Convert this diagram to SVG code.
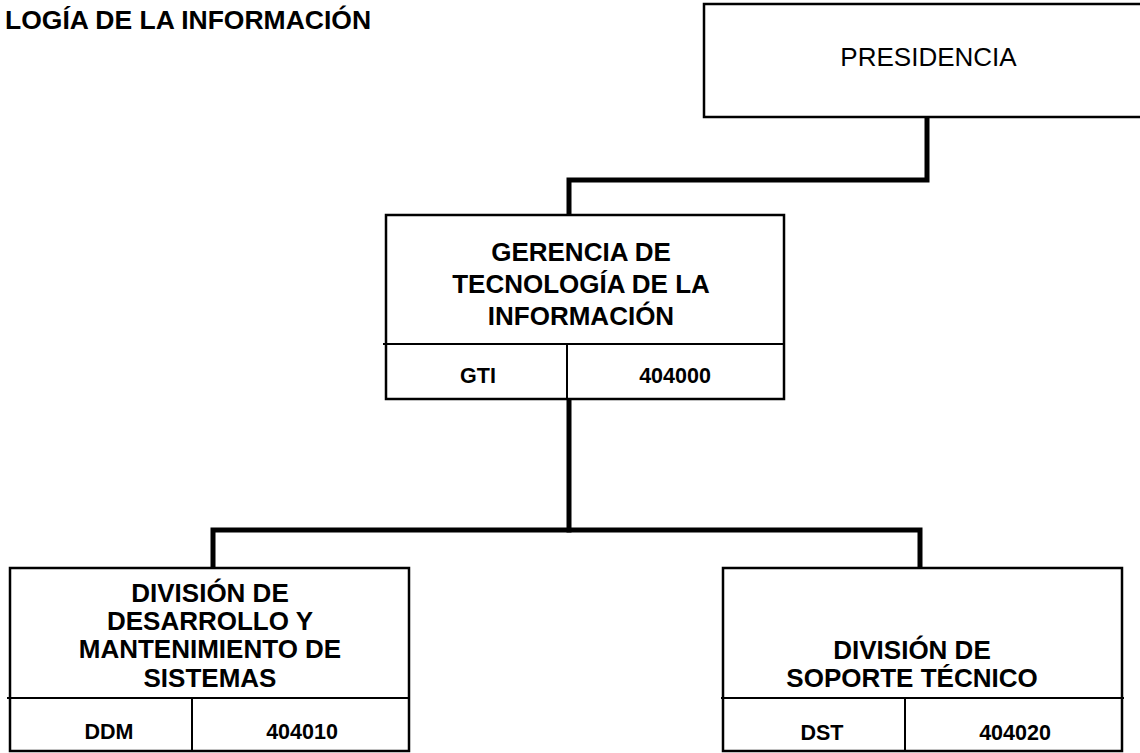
<svg xmlns="http://www.w3.org/2000/svg" width="1140" height="753" viewBox="0 0 1140 753">
<style>
  text { font-family: "Liberation Sans", Arial, sans-serif; fill: #000; }
  .b { font-weight: bold; text-anchor: middle; font-size: 26px; }
  .code { font-weight: bold; text-anchor: middle; font-size: 21.5px; }
  .box { fill: #fff; stroke: #000; stroke-width: 2.5; }
  .div { stroke: #000; stroke-width: 2; fill: none; }
  .conn { stroke: #000; stroke-width: 5; fill: none; stroke-linejoin: miter; stroke-linecap: square; }
</style>
<rect width="1140" height="753" fill="#fff"/>
<text x="5" y="29" font-size="26.5" font-weight="bold">LOGÍA DE LA INFORMACIÓN</text>
<g id="connectors">
  <polyline class="conn" points="927,118 927,180 569,180 569,214"/>
  <polyline class="conn" points="569,400 569,530"/>
  <polyline class="conn" points="213,567 213,530 920,530 920,567"/>
</g>
<g id="presidencia">
  <rect class="box" x="704" y="4" width="460" height="113"/>
  <text x="928.5" y="66" font-size="26" text-anchor="middle">PRESIDENCIA</text>
</g>
<g id="gti">
  <rect class="box" x="386" y="215" width="398" height="184"/>
  <line class="div" x1="383" y1="344" x2="784" y2="344"/>
  <line class="div" x1="567" y1="344" x2="567" y2="399"/>
  <text class="b" x="581" y="261">GERENCIA DE</text>
  <text class="b" x="581" y="293">TECNOLOGÍA DE LA</text>
  <text class="b" x="581" y="325">INFORMACIÓN</text>
  <text class="code" x="478" y="383">GTI</text>
  <text class="code" x="675" y="383">404000</text>
</g>
<g id="ddm">
  <rect class="box" x="10" y="568" width="399" height="183"/>
  <line class="div" x1="7" y1="698" x2="409" y2="698"/>
  <line class="div" x1="192" y1="698" x2="192" y2="751"/>
  <text class="b" x="210" y="602">DIVISIÓN DE</text>
  <text class="b" x="210" y="630">DESARROLLO Y</text>
  <text class="b" x="210" y="658">MANTENIMIENTO DE</text>
  <text class="b" x="210" y="687">SISTEMAS</text>
  <text class="code" x="109" y="739">DDM</text>
  <text class="code" x="302" y="739">404010</text>
</g>
<g id="dst">
  <rect class="box" x="723" y="568" width="399" height="183"/>
  <line class="div" x1="721" y1="698" x2="1124" y2="698"/>
  <line class="div" x1="905" y1="698" x2="905" y2="751"/>
  <text class="b" x="912" y="659">DIVISIÓN DE</text>
  <text class="b" x="912" y="687">SOPORTE TÉCNICO</text>
  <text class="code" x="822" y="740">DST</text>
  <text class="code" x="1015" y="740">404020</text>
</g>
</svg>
